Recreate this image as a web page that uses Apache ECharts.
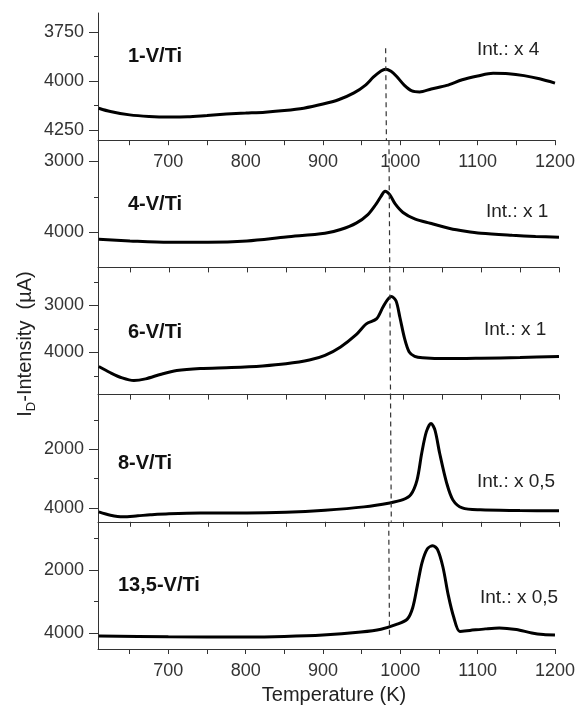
<!DOCTYPE html>
<html>
<head>
<meta charset="utf-8">
<script src="https://cdn.jsdelivr.net/npm/echarts@6/dist/echarts.min.js"></script>
<style>html,body{margin:0;padding:0;background:#fff}#c{width:578px;height:708px}</style>
</head>
<body>
<div id="c"></div>
<script>
// ---- data ----
var sampleNames = ['1-V/Ti', '4-V/Ti', '6-V/Ti', '8-V/Ti', '13,5-V/Ti'];
var intLabels = ['Int.: x 4', 'Int.: x 1', 'Int.: x 1', 'Int.: x 0,5', 'Int.: x 0,5'];

var T1 = [610, 625, 650, 675, 700, 725, 750, 775, 800, 825, 850, 875, 900, 920, 940, 955, 965, 975, 981, 988, 995, 1005, 1015, 1025, 1040, 1060, 1080, 1100, 1120, 1140, 1160, 1180, 1200];
var v1 = [4138, 4155, 4172, 4180, 4183, 4182, 4175, 4168, 4163, 4158, 4150, 4138, 4117, 4095, 4060, 4020, 3980, 3948, 3939, 3950, 3975, 4020, 4050, 4055, 4040, 4022, 3993, 3974, 3960, 3962, 3972, 3988, 4010];

var T2 = [610, 650, 700, 750, 800, 850, 900, 920, 940, 955, 965, 972, 977, 983, 990, 1000, 1015, 1035, 1060, 1080, 1100, 1140, 1170, 1200];
var v2 = [4098, 4120, 4138, 4138, 4120, 4065, 4014, 3960, 3870, 3750, 3610, 3490, 3422, 3470, 3600, 3720, 3810, 3873, 3945, 3985, 4014, 4042, 4058, 4070];

var T3 = [610, 625, 640, 655, 670, 690, 710, 740, 780, 820, 850, 880, 900, 920, 940, 953, 966, 974, 980, 985, 991, 996, 1002, 1008, 1015, 1025, 1056, 1100, 1150, 1200];
var v3 = [4298, 4430, 4540, 4596, 4560, 4460, 4383, 4340, 4319, 4285, 4240, 4160, 4060, 3880, 3620, 3390, 3284, 3043, 2880, 2808, 2900, 3250, 3700, 3990, 4080, 4110, 4128, 4120, 4106, 4085];

var T4 = [610, 625, 641, 660, 676, 700, 740, 800, 850, 900, 950, 983, 1000, 1010, 1018, 1024, 1030, 1036, 1041, 1047, 1056, 1064, 1076, 1099, 1150, 1200];
var v4 = [4136, 4250, 4305, 4270, 4237, 4200, 4175, 4175, 4150, 4080, 3966, 3831, 3720, 3550, 3051, 2136, 1400, 1119, 1350, 2136, 3153, 3729, 4000, 4068, 4090, 4102];

var T5 = [610, 700, 800, 850, 900, 949, 975, 995, 1009, 1016, 1022, 1028, 1035, 1042, 1048, 1055, 1062, 1069, 1077, 1090, 1110, 1128, 1150, 1170, 1185, 1200];
var v5 = [4096, 4120, 4127, 4110, 4064, 3968, 3880, 3730, 3560, 3200, 2500, 1778, 1330, 1238, 1350, 1900, 2800, 3492, 3950, 3920, 3870, 3840, 3890, 4000, 4050, 4064];

var xTicks = [650, 700, 750, 800, 850, 900, 950, 1000, 1050, 1100, 1150, 1200];
var xLabels = [700, 800, 900, 1000, 1100, 1200];

var yRanges = [[3653, 4301], [2704, 4493], [2191, 4894], [136, 4475], [476, 4508]];
var yLabelVals = [[3750, 4000, 4250], [3000, 4000], [3000, 4000], [2000, 4000], [2000, 4000]];
var yMinorVals = [[3875, 4125], [3500], [2500, 3500, 4500], [1000, 3000], [1000, 3000]];

// dashed reference line: temperature at top/bottom of each segment and its y extent
var refX = [[981, 982], [982, 983], [983, 984], [984, 985], [985, 986]];
var refY = [[3832, 4301], [2704, 4493], [2191, 4894], [136, 4475], [476, 4127]];

// ---- chart ----
var Ts = [T1, T2, T3, T4, T5];
var Vs = [v1, v2, v3, v4, v5];
var chart = echarts.init(document.getElementById('c'), null, {renderer: 'canvas'});
var FONT = 'Liberation Sans, Arial, sans-serif';
var top0 = 13, bottom0 = 649, H = (bottom0 - top0) / 5;
var grids = [], xAxes = [], yAxes = [], series = [], graphics = [];
var axisCol = '#333';
var fmt = function (v) { return String(v); };
for (var i = 0; i < 5; i++) {
  grids.push({left: 98, right: 19, top: top0 + i * H, height: H});
  var showLab = (i === 0 || i === 4);
  xAxes.push({
    gridIndex: i, type: 'value', min: 609, max: 1200,
    axisLine: {show: true, onZero: false, lineStyle: {color: axisCol, width: 1}},
    axisTick: {show: true, length: 5, customValues: xTicks, lineStyle: {color: axisCol}},
    axisLabel: {show: showLab, customValues: xLabels, formatter: fmt, fontSize: 18, color: '#333', fontFamily: FONT, margin: 13},
    splitLine: {show: false}
  });
  // major y axis
  yAxes.push({
    gridIndex: i, type: 'value', inverse: true, min: yRanges[i][0], max: yRanges[i][1],
    axisLine: {show: true, onZero: false, lineStyle: {color: axisCol, width: 1}},
    axisTick: {show: true, length: 9, customValues: yLabelVals[i], lineStyle: {color: axisCol}},
    axisLabel: {show: true, customValues: yLabelVals[i], formatter: fmt, fontSize: 18, color: '#333', fontFamily: FONT, margin: 14},
    splitLine: {show: false}
  });
  // minor y ticks
  yAxes.push({
    gridIndex: i, type: 'value', inverse: true, min: yRanges[i][0], max: yRanges[i][1], position: 'left',
    axisLine: {show: false, onZero: false},
    axisTick: {show: true, length: 4, customValues: yMinorVals[i], lineStyle: {color: axisCol}},
    axisLabel: {show: false},
    splitLine: {show: false}
  });
  var data = Ts[i].map(function (t, k) { return [t, Vs[i][k]]; });
  series.push({
    type: 'line', xAxisIndex: i, yAxisIndex: 2 * i, data: data, showSymbol: false, smooth: 0.3,
    lineStyle: {color: '#000', width: 3}, animation: false,
    markLine: {
      silent: true, symbol: 'none', animation: false, label: {show: false},
      lineStyle: {color: '#333', width: 1.2, type: [5, 4]},
      data: [[{coord: [refX[i][0], refY[i][0]]}, {coord: [refX[i][1], refY[i][1]]}]]
    }
  });
}

var namePos = [[128, 57], [128, 205], [128, 333], [118, 464], [118, 586]];
var intPos = [[477, 50], [486, 212], [484, 330], [477, 482], [480, 598]];
for (var j = 0; j < 5; j++) {
  graphics.push({type: 'text', left: namePos[j][0], top: namePos[j][1] - 11,
    style: {text: sampleNames[j], font: 'bold 20px ' + FONT, fill: '#111'}});
  graphics.push({type: 'text', left: intPos[j][0], top: intPos[j][1] - 10,
    style: {text: intLabels[j], font: '19px ' + FONT, fill: '#222'}});
}
graphics.push({type: 'text', x: 334, y: 695,
  style: {text: 'Temperature (K)', font: '20px ' + FONT, fill: '#222', align: 'center', verticalAlign: 'middle'}});
graphics.push({type: 'text', x: 25, y: 344, rotation: Math.PI / 2,
  style: {text: '{a|I}{b|D}{a|-Intensity  (\u00b5A)}', align: 'center', verticalAlign: 'middle',
    rich: {a: {font: '20px ' + FONT, fill: '#222'}, b: {font: '13px ' + FONT, fill: '#222', padding: [12, 0, 0, 0]}}}});

chart.setOption({
  animation: false,
  backgroundColor: '#fff',
  grid: grids, xAxis: xAxes, yAxis: yAxes, series: series, graphic: graphics
});
</script>
</body>
</html>
